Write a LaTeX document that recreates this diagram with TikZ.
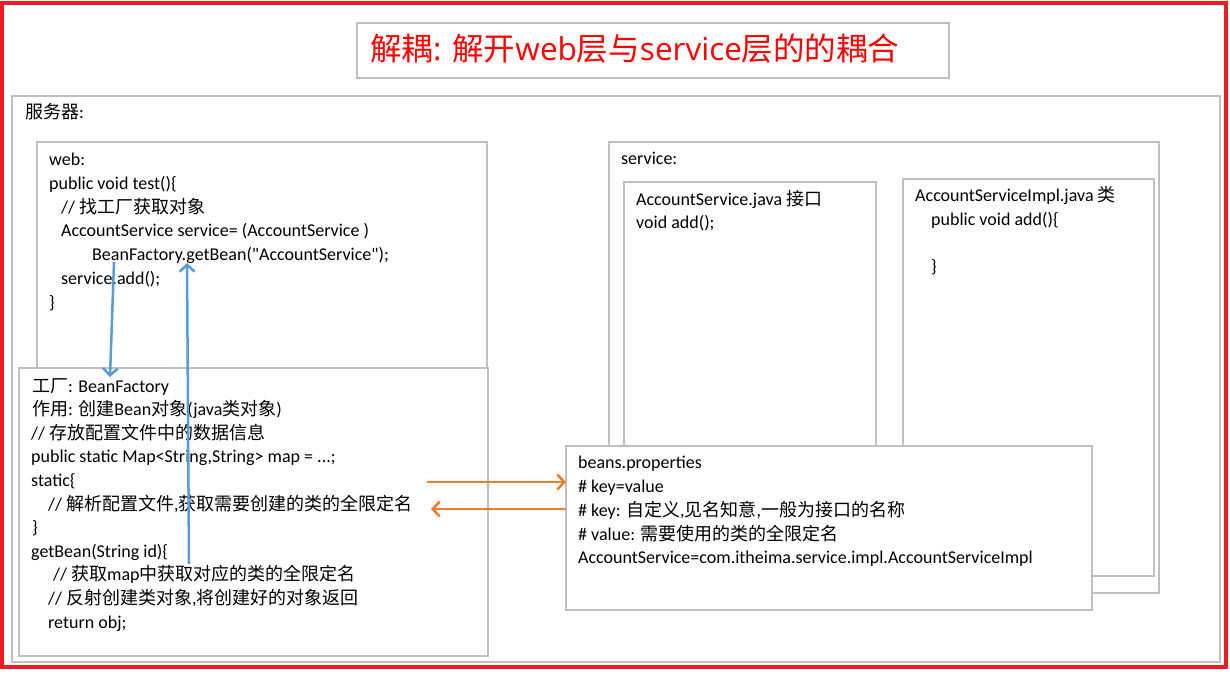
\documentclass[tikz,border=0pt]{standalone}
\usepackage{fontspec}
\setmainfont{Carlito}
\newfontfamily\plainfont{Carlito}
\newfontfamily\zhfont{Noto Sans CJK SC}
\newfontfamily\titlefont{Open Sans}
\newcommand\zh[1]{{\zhfont#1}}
\newcommand\dq{{\plainfont\char34}}
\usetikzlibrary{arrows.meta}
\definecolor{boxgray}{RGB}{191,191,191}
\definecolor{arrowblue}{RGB}{91,155,213}
\definecolor{arroworange}{RGB}{237,125,49}
\definecolor{framered}{RGB}{237,28,36}

\begin{document}
\begin{tikzpicture}[x=1pt,y=-1pt,
  box/.style={draw=boxgray,line width=1.2pt,fill=white,anchor=north west,inner sep=0pt,outer sep=0pt},
  txt/.style={anchor=base west,inner sep=0pt,font=\fontsize{18}{24}\selectfont},
  barrow/.style={draw=arrowblue,line width=2.5pt,-{Straight Barb[length=7pt,width=15pt]}},
  oarrow/.style={draw=arroworange,line width=2.5pt,-{Straight Barb[length=7pt,width=15pt]}}]
  \useasboundingbox (0,0) rectangle (1230,674);
  % --- outer frame and title ---
  \draw[framered,line width=4pt] (2,3) rectangle (1226,667);
  \node[box,minimum width=592,minimum height=55] (title) at (357,23) {};
  \node[anchor=base west,inner sep=0pt,text=red,font=\titlefont\fontsize{31.5}{31.5}\selectfont] (titletext) at (370,61)
    {\zh{解耦}: \zh{解开}web\zh{层与}service\zh{层的的耦合}};
  % --- server ---
  \node[box,minimum width=1208,minimum height=566] (server) at (12,96) {};
  \node[txt] (srv) at (25,118) {\zh{服务器}:};
  % --- web layer ---
  \node[box,minimum width=450,minimum height=258] (web) at (37,142) {};
  \node[txt] (w1) at (49,165) {web:};
  \node[txt] (w2) at (49,189) {public void test()\{};
  \node[txt] (w3) at (61,213) {// \zh{找工厂获取对象}};
  \node[txt] (w4) at (61,236) {AccountService service= (AccountService )};
  \node[txt] (w5) at (92,260) {BeanFactory.getBean(\dq AccountService\dq);};
  \node[txt] (w6) at (61,284) {service.add();};
  \node[txt] (w7) at (49,308) {\}};
  % --- factory ---
  \node[box,minimum width=469,minimum height=288] (factory) at (19,368) {};
  \node[txt] (f1) at (32,392) {\zh{工厂}: BeanFactory};
  \node[txt] (f2) at (32,415.6) {\zh{作用}: \zh{创建}Bean\zh{对象}(java\zh{类对象})};
  \node[txt] (f3) at (31,439.2) {// \zh{存放配置文件中的数据信息}};
  \node[txt] (f4) at (31,462.8) {public static Map<String,String> map = ...;};
  \node[txt] (f5) at (31,486.4) {static\{};
  \node[txt] (f6) at (48,510) {// \zh{解析配置文件},\zh{获取需要创建的类的全限定名}};
  \node[txt] (f7) at (32,533.6) {\}};
  \node[txt] (f8) at (31,557.2) {getBean(String id)\{};
  \node[txt] (f9) at (53,580.8) {// \zh{获取}map\zh{中获取对应的类的全限定名}};
  \node[txt] (f10) at (48,604.4) {// \zh{反射创建类对象},\zh{将创建好的对象返回}};
  \node[txt] (f11) at (48,628) {return obj;};
  % --- service layer ---
  \node[box,minimum width=550,minimum height=451] (service) at (609,142) {};
  \node[txt] (svc) at (621,164) {service:};
  \node[box,minimum width=252,minimum height=300] (iface) at (624,182) {};
  \node[txt] (as1) at (636,205) {AccountService.java \zh{接口}};
  \node[txt] (as2) at (636,228) {void add();};
  \node[box,minimum width=251,minimum height=397] (impl) at (903,179) {};
  \node[txt] (im1) at (915,201) {AccountServiceImpl.java \zh{类}};
  \node[txt] (im2) at (931,225) {public void add()\{};
  \node[txt] (im3) at (931,272) {\}};
  % --- properties file ---
  \node[box,minimum width=526,minimum height=164] (beans) at (566,446) {};
  \node[txt] (b1) at (578,468) {beans.properties};
  \node[txt] (b2) at (578,492) {\# key=value};
  \node[txt] (b3) at (578,516) {\# key: \zh{自定义},\zh{见名知意},\zh{一般为接口的名称}};
  \node[txt] (b4) at (578,540) {\# value: \zh{需要使用的类的全限定名}};
  \node[txt] (b5) at (578,563) {AccountService=com.itheima.service.impl.AccountServiceImpl};
  % --- arrows ---
  \coordinate (callstart) at (114,262);
  \coordinate (callend) at (110,377);
  \draw[barrow] (callstart) -- (callend);
  \coordinate (retstart) at (189,564);
  \coordinate (retend) at (187,263);
  \draw[barrow] (retstart) -- (retend);
  \coordinate (readout) at (427,482);
  \draw[oarrow] (readout) -- (readout -| beans.west);
  \coordinate (readin) at (431,509);
  \draw[oarrow] (readin -| beans.west) -- (readin);
\end{tikzpicture}
\end{document}
